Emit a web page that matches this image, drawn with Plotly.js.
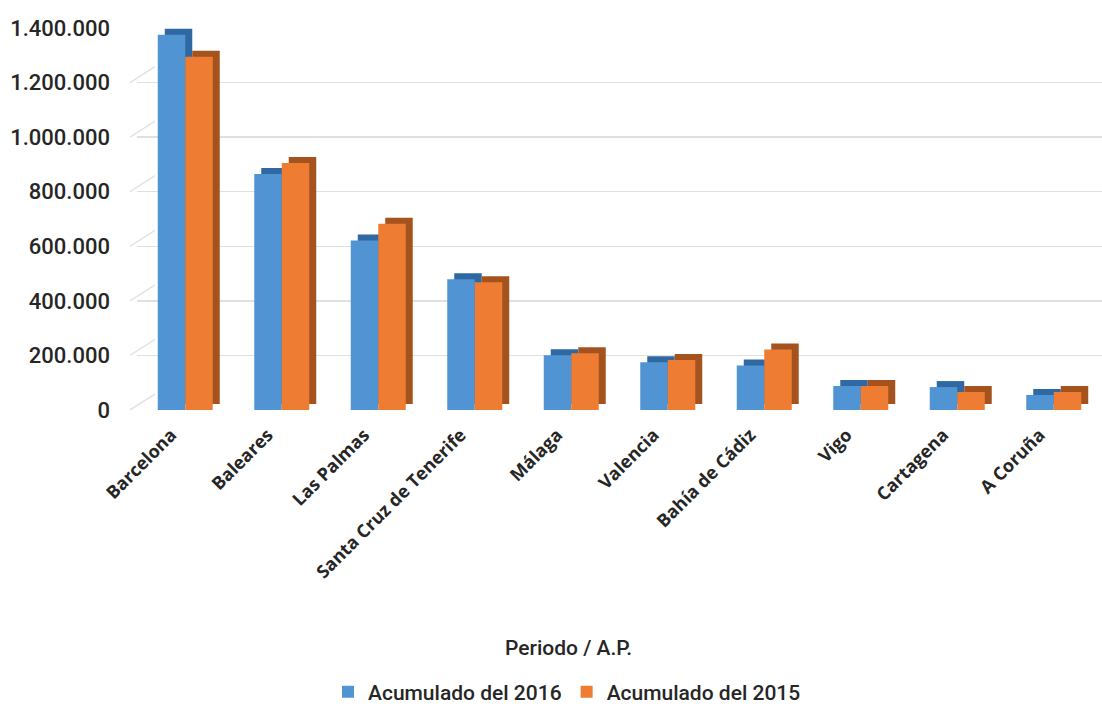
<!DOCTYPE html>
<html>
<head>
<meta charset="utf-8">
<script src="https://cdn.plot.ly/plotly-3.0.1.min.js"></script>
<style>html,body{margin:0;padding:0;background:#fff;}#chart{width:1102px;height:706px;}</style>
</head>
<body>
<div id="chart"></div>
<script>
const categories = ["Barcelona","Baleares","Las Palmas","Santa Cruz de Tenerife","Málaga","Valencia","Bahía de Cádiz","Vigo","Cartagena","A Coruña"];
const acum2016 = [1375000, 865000, 621000, 479000, 201000, 175000, 163000, 88000, 84000, 55000];
const acum2015 = [1295000, 905000, 683000, 468000, 208000, 183000, 222000, 88000, 66000, 66000];
const seriesNames = ["Acumulado del 2016","Acumulado del 2015"];
const yTicks = [0, 200000, 400000, 600000, 800000, 1000000, 1200000, 1400000];
const yTickText = ["0","200.000","400.000","600.000","800.000","1.000.000","1.200.000","1.400.000"];

const W = 1102, H = 706, ML = 137, MR = 0, MT = 12, MB = 296;
const plotW = W - ML - MR, plotH = H - MT - MB;
const frontBottomPx = 410, frontTopPx = 28, backShift = 16;
const pxPerUnit = (frontBottomPx - frontTopPx) / 1400000;
const depthX = 7 / (plotW / categories.length);
const depthY = 6 / pxPerUnit;
const bw = 0.285;

const blue = "#5094d3", blueDark = "#2f68a3";
const orange = "#ee7d33", orangeDark = "#a4531e";

function backTrace(vals, off, color){
  return {type:"bar", x:categories, y:vals, base:vals.map(()=>depthY),
    offset: off + depthX, width: bw, marker:{color:color, line:{width:0}},
    showlegend:false, hoverinfo:"skip", xaxis:"x", yaxis:"y"};
}
function frontTrace(vals, off, color, name){
  return {type:"bar", x:categories, y:vals, offset: off, width: bw, name:name,
    marker:{color:color, line:{width:0}}, xaxis:"x", yaxis:"y"};
}

const traces = [
  {type:"scatter", x:[0], y:[0], xaxis:"x2", yaxis:"y2", mode:"markers", marker:{opacity:0}, showlegend:false, hoverinfo:"skip"},
  backTrace(acum2016, -bw, blueDark),
  frontTrace(acum2016, -bw, blue, seriesNames[0]),
  backTrace(acum2015, 0, orangeDark),
  frontTrace(acum2015, 0, orange, seriesNames[1])
];

const shapes = yTicks.map(v => ({type:"line", xref:"paper", yref:"y", ysizemode:"pixel", yanchor:v,
  x0:(130-ML)/plotW, x1:(155-ML)/plotW, y0:0, y1:backShift, line:{color:"#e3e3e3", width:1.5}}));

const layout = {
  width: W, height: H,
  margin:{l:ML, r:MR, t:MT, b:MB, autoexpand:false},
  paper_bgcolor:"#ffffff", plot_bgcolor:"rgba(0,0,0,0)",
  barmode:"overlay",
  showlegend:true,
  legend:{orientation:"h", x:(567-ML)/plotW, xanchor:"center", y:(frontBottomPx-692)/plotH, yanchor:"middle",
    font:{family:"Roboto, sans-serif", size:21, color:"#262626", weight:500}, itemwidth:30, tracegroupgap:0, traceorder:"normal"},
  xaxis:{domain:[0,1], type:"category", range:[-0.5, categories.length-0.5], tickangle:-45,
    showgrid:false, zeroline:false, showline:false, ticks:"", ticklabelstandoff:10, ticklabelshift:-14,
    tickfont:{family:"'Open Sans', sans-serif", size:18, color:"#262626", weight:700}, fixedrange:true},
  yaxis:{domain:[0, (frontBottomPx-frontTopPx)/plotH], range:[0,1400000],
    tickvals:yTicks, ticktext:yTickText, showgrid:false, zeroline:false, showline:false, ticks:"",
    ticklabelstandoff:26,
    tickfont:{family:"Roboto, sans-serif", size:22, color:"#262626", weight:500}, fixedrange:true},
  xaxis2:{domain:[(155-ML)/plotW,1], range:[0,1], visible:false, anchor:"y2", overlaying:"x"},
  yaxis2:{domain:[backShift/plotH, 1], range:[0,1400000], anchor:"x2", overlaying:"y",
    tickvals:yTicks, showticklabels:false, showgrid:true, gridcolor:"#e0e0e0", gridwidth:1.5,
    zeroline:false, showline:false, ticks:""},
  annotations:[{text:"Periodo / A.P.", xref:"paper", yref:"paper", x:(568-ML)/plotW, y:(frontBottomPx-648)/plotH,
    xanchor:"center", yanchor:"middle", showarrow:false,
    font:{family:"Roboto, sans-serif", size:21, color:"#262626", weight:500}}],
  shapes: shapes
};

Plotly.newPlot("chart", traces, layout, {displayModeBar:false, staticPlot:true});
</script>
</body>
</html>
